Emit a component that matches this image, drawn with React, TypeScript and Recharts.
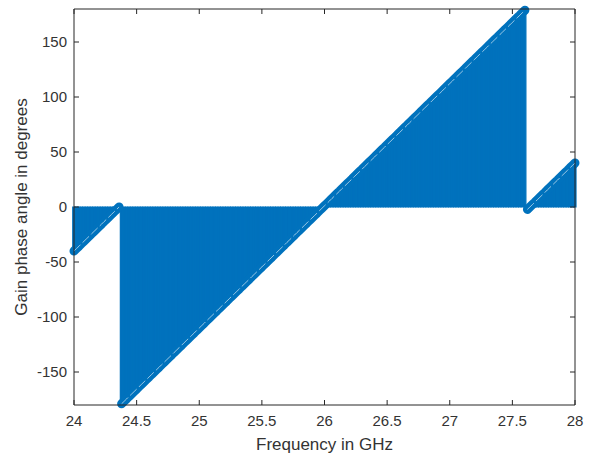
import React from 'react';
import { ComposedChart, Bar, Line, Area, XAxis, YAxis } from 'recharts';

const FREQ_START_GHZ = 24;
const FREQ_STEP_GHZ = 0.02;

// Phase samples (degrees), 24 GHz .. 28 GHz
const phaseBeforeWrap = [
  -40.0, -37.8, -35.6, -33.3, -31.1, -28.9, -26.7, -24.4, -22.2, -20.0,
  -17.8, -15.6, -13.3, -11.1, -8.9, -6.7, -4.4, -2.2, 0.0,
];

const phaseMain = [
  -178.9, -176.7, -174.5, -172.2, -170.0, -167.8, -165.6, -163.3, -161.1,
  -158.9, -156.7, -154.5, -152.2, -150.0, -147.8, -145.6, -143.3, -141.1,
  -138.9, -136.7, -134.5, -132.2, -130.0, -127.8, -125.6, -123.3, -121.1,
  -118.9, -116.7, -114.5, -112.2, -110.0, -107.8, -105.6, -103.3, -101.1,
  -98.9, -96.7, -94.5, -92.2, -90.0, -87.8, -85.6, -83.3, -81.1,
  -78.9, -76.7, -74.5, -72.2, -70.0, -67.8, -65.6, -63.3, -61.1,
  -58.9, -56.7, -54.5, -52.2, -50.0, -47.8, -45.6, -43.3, -41.1,
  -38.9, -36.7, -34.5, -32.2, -30.0, -27.8, -25.6, -23.3, -21.1,
  -18.9, -16.7, -14.5, -12.2, -10.0, -7.8, -5.6, -3.3, -1.1,
  1.1, 3.3, 5.5, 7.8, 10.0, 12.2, 14.4, 16.7, 18.9,
  21.1, 23.3, 25.5, 27.8, 30.0, 32.2, 34.4, 36.7, 38.9,
  41.1, 43.3, 45.5, 47.8, 50.0, 52.2, 54.4, 56.7, 58.9,
  61.1, 63.3, 65.5, 67.8, 70.0, 72.2, 74.4, 76.7, 78.9,
  81.1, 83.3, 85.5, 87.8, 90.0, 92.2, 94.4, 96.7, 98.9,
  101.1, 103.3, 105.5, 107.8, 110.0, 112.2, 114.4, 116.7, 118.9,
  121.1, 123.3, 125.5, 127.8, 130.0, 132.2, 134.4, 136.7, 138.9,
  141.1, 143.3, 145.5, 147.8, 150.0, 152.2, 154.4, 156.7, 158.9,
  161.1, 163.3, 165.5, 167.8, 170.0, 172.2, 174.4, 176.7, 178.9,
];

const phaseAfterWrap = [
  -2.2, 0.0, 2.2, 4.4, 6.7, 8.9, 11.1, 13.3, 15.6, 17.8,
  20.0, 22.2, 24.4, 26.7, 28.9, 31.1, 33.3, 35.6, 37.8, 40.0,
];

const segments = [phaseBeforeWrap, phaseMain, phaseAfterWrap];
const segKeys = ['segA', 'segB', 'segC'];

const xTicks = [24, 24.5, 25, 25.5, 26, 26.5, 27, 27.5, 28];
const yTicks = [-150, -100, -50, 0, 50, 100, 150];
const xDomain: [number, number] = [24, 28];
const yDomain: [number, number] = [-180, 180];

const data: any[] = [];
segments.forEach((seg, s) => {
  seg.forEach((p) => {
    const i = data.length;
    const row: any = {
      f: Math.round((FREQ_START_GHZ + i * FREQ_STEP_GHZ) * 100) / 100,
      phase: p,
    };
    row[segKeys[s]] = p;
    data.push(row);
  });
});

const BLUE = '#0072BD';
const AXIS = '#262626';
const TEXT = '#333333';
const FONT = '"Liberation Sans", Arial, Helvetica, sans-serif';

const tickStyle = { fill: TEXT, fontSize: 15, fontFamily: FONT };

const XLabel = (props: any) => {
  const vb = props.viewBox || {};
  const cx = vb.x + vb.width / 2;
  return (
    <text x={cx} y={vb.y + 45} textAnchor="middle" fill={TEXT} fontSize={17} fontFamily={FONT}>
      Frequency in GHz
    </text>
  );
};

const YLabel = (props: any) => {
  const vb = props.viewBox || {};
  const cx = vb.x + 21;
  const cy = vb.y + vb.height / 2;
  return (
    <text
      x={cx}
      y={cy}
      transform={`rotate(-90, ${cx}, ${cy})`}
      textAnchor="middle"
      dy="0.35em"
      fill={TEXT}
      fontSize={17}
      fontFamily={FONT}
    >
      Gain phase angle in degrees
    </text>
  );
};

const NoTick = () => <g />;

export default function App() {
  return (
    <div style={{ position: 'fixed', left: 0, top: 0, width: 589, height: 455, background: '#fff' }}>
      <ComposedChart
        width={589}
        height={455}
        data={data}
        margin={{ top: 8, right: 13, bottom: 0, left: 0 }}
      >
        <XAxis
          dataKey="f"
          type="number"
          domain={xDomain}
          ticks={xTicks}
          interval={0}
          height={50}
          tickSize={-5}
          tickMargin={15}
          tick={tickStyle}
          axisLine={{ stroke: AXIS }}
          tickLine={{ stroke: AXIS }}
          label={<XLabel />}
        />
        <XAxis
          xAxisId="top"
          dataKey="f"
          orientation="top"
          type="number"
          domain={xDomain}
          ticks={xTicks}
          interval={0}
          height={1}
          tickSize={-5}
          tick={NoTick}
          axisLine={{ stroke: AXIS }}
          tickLine={{ stroke: AXIS }}
        />
        <YAxis
          type="number"
          domain={yDomain}
          ticks={yTicks}
          interval={0}
          width={74}
          tickSize={-5}
          tickMargin={12}
          tick={tickStyle}
          axisLine={{ stroke: AXIS }}
          tickLine={{ stroke: AXIS }}
          label={<YLabel />}
        />
        <YAxis
          yAxisId="right"
          orientation="right"
          type="number"
          domain={yDomain}
          ticks={yTicks}
          interval={0}
          width={1}
          tickSize={-5}
          tick={NoTick}
          axisLine={{ stroke: AXIS }}
          tickLine={{ stroke: AXIS }}
        />
        {segKeys.map((k) => (
          <Area
            key={k + '-fill'}
            dataKey={k}
            type="linear"
            baseValue={0}
            fill={BLUE}
            fillOpacity={1}
            stroke="none"
            dot={false}
            activeDot={false}
            connectNulls={false}
            isAnimationActive={false}
          />
        ))}
        <Bar
          dataKey="phase"
          fill={BLUE}
          stroke={BLUE}
          strokeWidth={1.2}
          barSize={3}
          isAnimationActive={false}
        />
        {segKeys.map((k) => (
          <Line
            key={k}
            dataKey={k}
            stroke={BLUE}
            strokeWidth={9}
            strokeLinecap="round"
            strokeLinejoin="round"
            dot={false}
            activeDot={false}
            connectNulls={false}
            isAnimationActive={false}
          />
        ))}
        {segKeys.map((k) => (
          <Line
            key={k + '-hl'}
            dataKey={k}
            stroke="#ffffff"
            strokeOpacity={0.75}
            strokeWidth={0.8}
            strokeDasharray="9 3"
            dot={false}
            activeDot={false}
            connectNulls={false}
            isAnimationActive={false}
          />
        ))}
        <Line
          xAxisId="top"
          yAxisId="right"
          dataKey="phase"
          stroke="none"
          dot={false}
          activeDot={false}
          isAnimationActive={false}
        />
      </ComposedChart>
    </div>
  );
}
